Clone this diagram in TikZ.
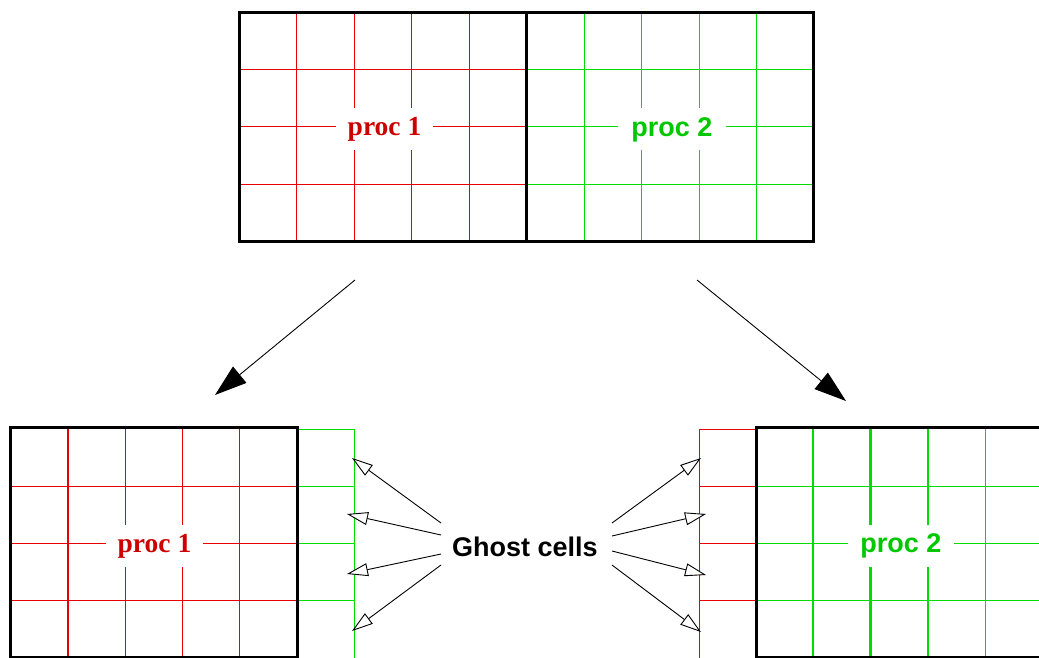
\documentclass[tikz,border=0pt]{standalone}
\usepackage{fontspec}
\setmainfont{Liberation Serif}
\setsansfont{Liberation Sans}
\usetikzlibrary{arrows.meta}
\definecolor{gred}{RGB}{232,0,0}
\definecolor{ggreen}{RGB}{0,220,0}
\definecolor{tred}{RGB}{205,0,0}
\definecolor{tgreen}{RGB}{0,200,0}
\begin{document}
\begin{tikzpicture}[x=1pt,y=-1pt,
  redline/.style={draw=gred,line width=1.5pt},
  greenline/.style={draw=ggreen,line width=1.5pt},
  thickred/.style={draw=gred,line width=2.4pt},
  thickgreen/.style={draw=ggreen,line width=2.4pt},
  border/.style={draw=black,line width=3pt},
  lbl/.style={fill=white,inner sep=0pt,minimum height=42pt,font=\bfseries\fontsize{27}{27}\selectfont},
  bigarrow/.style={line width=0.9pt,-{Triangle[length=32pt,width=21pt]}},
  ghostarrow/.style={line width=0.9pt,-{Triangle[length=21pt,width=13pt,fill=white]}}]
\useasboundingbox (0,0) rectangle (1039,658);
\clip (0,0) rectangle (1039,658);
% ---------- top grid ----------
\foreach \x in {296.5,354.5,411.5,469.5} \draw[redline] (\x,12) -- (\x,241);
\foreach \y in {69.5,126.5,184.5} \draw[redline] (239,\y) -- (526,\y);
\foreach \x in {584.5,641.5,699.5,756.5} \draw[greenline] (\x,12) -- (\x,241);
\foreach \y in {69.5,126.5,184.5} \draw[greenline] (526,\y) -- (813,\y);
\node[lbl,minimum width=97pt,text=tred,font=\rmfamily\bfseries\fontsize{27.5}{27.5}\selectfont] (p1top) at (384.5,129.5) {proc 1};
\node[lbl,minimum width=108pt,text=tgreen,font=\sffamily\bfseries\fontsize{27}{27}\selectfont] (p2top) at (672,129.5) {proc 2};
\draw[border] (239.5,12.5) rectangle (813.5,241.5);
\draw[border] (526.5,12.5) -- (526.5,241.5);
% ---------- bottom left ----------
\draw[thickred] (68,427.5) -- (68,660);
\foreach \x in {125.5,182.5,239.5} \draw[redline] (\x,427.5) -- (\x,660);
\foreach \y in {486.5,543.5,600.5} \draw[redline] (10.5,\y) -- (297,\y);
\draw[greenline] (297,429.5) -- (354.5,429.5) -- (354.5,660);
\foreach \y in {486.5,543.5,600.5} \draw[greenline] (297,\y) -- (354.5,\y);
\node[lbl,minimum width=97pt,text=tred,font=\rmfamily\bfseries\fontsize{27.5}{27.5}\selectfont] (p1bot) at (154.5,546) {proc 1};
\draw[border] (10.5,427.5) rectangle (297.5,657.5);
% ---------- bottom right ----------
\draw[redline] (756,429.5) -- (699.5,429.5) -- (699.5,660);
\foreach \y in {486.5,543.5,600.5} \draw[redline] (699.5,\y) -- (756,\y);
\foreach \x in {813,870.5,928} \draw[thickgreen] (\x,427.5) -- (\x,660);
\draw[greenline] (985.5,427.5) -- (985.5,660);
\foreach \y in {486.5,543.5,600.5} \draw[greenline] (756,\y) -- (1045,\y);
\node[lbl,minimum width=106pt,text=tgreen,font=\sffamily\bfseries\fontsize{27}{27}\selectfont] (p2bot) at (901,546) {proc 2};
\draw[border] (756.5,427.5) rectangle (1045,657.5);
% ---------- big arrows ----------
\coordinate (a1s) at (355,280);
\coordinate (a1e) at (215,395);
\coordinate (a2s) at (697,280);
\coordinate (a2e) at (846,401);
\draw[bigarrow] (a1s) -- (a1e);
\draw[bigarrow] (a2s) -- (a2e);
% ---------- ghost cells ----------
\node[inner sep=0pt,font=\sffamily\bfseries\fontsize{27}{27}\selectfont] (gc) at (525,547) {Ghost cells};
\coordinate (l1s) at (441,523); \coordinate (l1e) at (352,458);
\coordinate (l2s) at (441,535); \coordinate (l2e) at (347,514);
\coordinate (l3s) at (441,554); \coordinate (l3e) at (347,574);
\coordinate (l4s) at (441,565); \coordinate (l4e) at (352,631);
\coordinate (r1s) at (612,523); \coordinate (r1e) at (701,458);
\coordinate (r2s) at (612,536); \coordinate (r2e) at (706,514);
\coordinate (r3s) at (612,551); \coordinate (r3e) at (706,575);
\coordinate (r4s) at (612,565); \coordinate (r4e) at (701,632);
\foreach \a in {l1,l2,l3,l4,r1,r2,r3,r4} \draw[ghostarrow] (\a s) -- (\a e);
\end{tikzpicture}
\end{document}
